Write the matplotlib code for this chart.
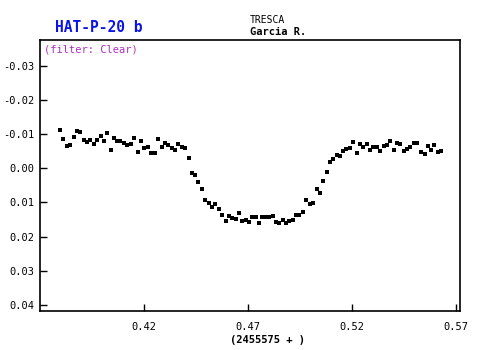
import matplotlib
matplotlib.use("Agg")
import matplotlib.pyplot as plt

title = "HAT-P-20 b"
observatory = "TRESCA"
observer = "Garcia R."
filter_label = "(filter: Clear)"
x_label = "(2455575 + )"

x_ticks = [0.42, 0.47, 0.52, 0.57]
y_ticks = [-0.03, -0.02, -0.01, 0.00, 0.01, 0.02, 0.03, 0.04]

time = [
    0.3796, 0.3811, 0.3828, 0.3844, 0.3862, 0.3878, 0.3892, 0.3910, 0.3926, 0.3940,
    0.3958, 0.3974, 0.3992, 0.4006, 0.4022, 0.4040, 0.4054, 0.4070, 0.4086, 0.4102,
    0.4120, 0.4136, 0.4152, 0.4170, 0.4186, 0.4201, 0.4218, 0.4234, 0.4253, 0.4266,
    0.4285, 0.4299, 0.4315, 0.4333, 0.4349, 0.4363, 0.4381, 0.4396, 0.4415, 0.4431,
    0.4445, 0.4461, 0.4478, 0.4492, 0.4511, 0.4525, 0.4540, 0.4559, 0.4574, 0.4593,
    0.4607, 0.4622, 0.4641, 0.4655, 0.4670, 0.4689, 0.4703, 0.4717, 0.4737, 0.4751,
    0.4766, 0.4780, 0.4799, 0.4819, 0.4833, 0.4847, 0.4866, 0.4881, 0.4896, 0.4915,
    0.4929, 0.4944, 0.4963, 0.4977, 0.4997, 0.5011, 0.5030, 0.5045, 0.5059, 0.5078,
    0.5093, 0.5107, 0.5126, 0.5141, 0.5155, 0.5170, 0.5189, 0.5203, 0.5223, 0.5237,
    0.5251, 0.5271, 0.5285, 0.5299, 0.5319, 0.5333, 0.5352, 0.5367, 0.5381, 0.5400,
    0.5415, 0.5429, 0.5448, 0.5463, 0.5477, 0.5497, 0.5511, 0.5530, 0.5549, 0.5564,
    0.5578, 0.5593, 0.5612, 0.5626,
]

delta_mag = [
    -0.0112, -0.0085, -0.0066, -0.0069, -0.0092, -0.0110, -0.0106, -0.0083, -0.0076, -0.0083,
    -0.0071, -0.0083, -0.0095, -0.0080, -0.0104, -0.0054, -0.0089, -0.0080, -0.0080, -0.0074,
    -0.0069, -0.0071, -0.0089, -0.0048, -0.0080, -0.0060, -0.0063, -0.0045, -0.0045, -0.0086,
    -0.0063, -0.0074, -0.0069, -0.0060, -0.0054, -0.0071, -0.0063, -0.0060, -0.0030, 0.0013,
    0.0020, 0.0040, 0.0061, 0.0093, 0.0102, 0.0114, 0.0105, 0.0120, 0.0137, 0.0155,
    0.0140, 0.0146, 0.0149, 0.0131, 0.0155, 0.0152, 0.0158, 0.0143, 0.0143, 0.0161,
    0.0143, 0.0143, 0.0143, 0.0140, 0.0158, 0.0161, 0.0152, 0.0161, 0.0155, 0.0152,
    0.0137, 0.0137, 0.0129, 0.0093, 0.0105, 0.0102, 0.0061, 0.0073, 0.0037, 0.0011,
    -0.0019, -0.0027, -0.0039, -0.0036, -0.0051, -0.0057, -0.0061, -0.0077, -0.0045, -0.0071,
    -0.0063, -0.0071, -0.0054, -0.0063, -0.0063, -0.0051, -0.0066, -0.0069, -0.0080, -0.0054,
    -0.0074, -0.0071, -0.0051, -0.0057, -0.0063, -0.0074, -0.0074, -0.0048, -0.0042, -0.0066,
    -0.0054, -0.0069, -0.0048, -0.0051,
]

fig = plt.figure(figsize=(5, 3.5), dpi=100)
ax = fig.add_axes([40 / 500, 1 - 311 / 350, 420 / 500, 271 / 350])

ax.plot(time, delta_mag, linestyle="none", marker="s", markersize=3.4,
        color="black", markeredgewidth=0)

ax.set_xlim(0.37, 0.5719)
ax.set_ylim(0.0418, -0.0376)
ax.set_xticks(x_ticks)
ax.set_xticklabels([f"{v:.2f}" for v in x_ticks])
ax.set_yticks(y_ticks)
ax.set_yticklabels([f"{v:.2f}" for v in y_ticks])

mono = "DejaVu Sans Mono"
ax.tick_params(direction="in", length=5, width=1, labelsize=7.5, pad=4)
for lab in ax.get_xticklabels() + ax.get_yticklabels():
    lab.set_family(mono)
ax.tick_params(axis="x", pad=8)
for s in ax.spines.values():
    s.set_linewidth(1.2)
    s.set_color("black")

ax.text(0.01, 0.985, filter_label, transform=ax.transAxes, ha="left", va="top",
        color="#b030c0", fontsize=7.5, family=mono)

fig.text(55 / 500, 1 - 28 / 350, title, ha="left", va="center", color="#0a14e6",
         fontsize=10.5, fontweight="bold", family=mono)
fig.text(250 / 500, 1 - 20 / 350, observatory, ha="left", va="center",
         fontsize=7, family=mono)
fig.text(250 / 500, 1 - 32 / 350, observer, ha="left", va="center",
         fontsize=7.5, fontweight="bold", family=mono)
fig.text(268 / 500, 1 - 340 / 350, x_label, ha="center", va="center",
         fontsize=7.5, fontweight="bold", family=mono)

fig.savefig("out.png", dpi=100)
